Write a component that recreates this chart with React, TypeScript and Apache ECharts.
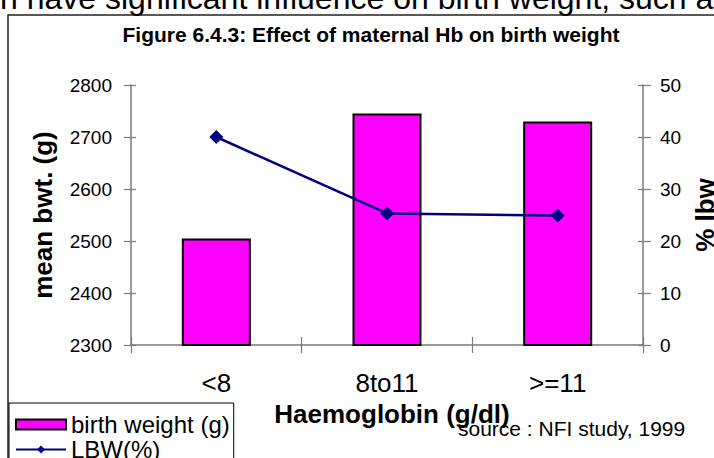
import React, { useEffect, useRef } from "react";
import * as echarts from "echarts";

const categories = ["<8", "8to11", ">=11"];
const birthWeight = [2505, 2745, 2730];
const lbwPercent = [40, 25.3, 24.9];
const leftTicks = { min: 2300, max: 2800, interval: 100 };
const rightTicks = { min: 0, max: 50, interval: 10 };

const FONT = "'Liberation Sans', Arial, Helvetica, sans-serif";
const AXIS_GRAY = "#7a7a7a";

export default function App() {
  const ref = useRef<HTMLDivElement>(null);
  useEffect(() => {
    if (!ref.current) return;
    const chart = echarts.init(ref.current, null, { renderer: "svg" });
    const plain = (v: number) => String(v);
    const option: any = {
      animation: false,
      backgroundColor: "#ffffff",
      textStyle: { fontFamily: FONT },
      grid: {
        left: 131,
        right: 71,
        top: 85,
        bottom: 113,
        containLabel: false,
        outerBoundsMode: "none",
      },
      legend: {
        orient: "vertical",
        left: 9,
        top: 403,
        height: 120,
        padding: [9, 4, 10, 6],
        itemGap: 0,
        itemWidth: 50,
        itemHeight: 10,
        itemTextGap: 12,
        borderColor: "#000",
        borderWidth: 1,
        textStyle: { fontSize: 24, lineHeight: 25, color: "#000", fontFamily: FONT },
        data: [
          { name: "birth weight (g)", icon: "rect" },
          { name: "LBW(%)" },
        ],
      },
      xAxis: [
        {
          type: "category",
          data: categories,
          position: "bottom",
          axisLine: { show: true, lineStyle: { color: AXIS_GRAY, width: 1.5 } },
          axisTick: { show: true, inside: false, length: 8, lineStyle: { color: AXIS_GRAY, width: 1.2 } },
          axisLabel: { fontSize: 26, color: "#000", margin: 25, fontFamily: FONT },
          splitLine: { show: false },
        },
        {
          type: "category",
          data: categories,
          position: "bottom",
          axisLine: { show: false },
          axisTick: { show: true, inside: true, length: 8, lineStyle: { color: AXIS_GRAY, width: 1.2 } },
          axisLabel: { show: false },
          splitLine: { show: false },
        },
      ],
      yAxis: [
        {
          type: "value",
          position: "left",
          min: leftTicks.min,
          max: leftTicks.max,
          interval: leftTicks.interval,
          axisLine: { show: true, lineStyle: { color: AXIS_GRAY, width: 1.5 } },
          axisTick: { show: true, inside: false, length: 7, lineStyle: { color: AXIS_GRAY, width: 1.2 } },
          axisLabel: { fontSize: 19, color: "#000", margin: 19, fontFamily: FONT, formatter: plain },
          splitLine: { show: false },
        },
        {
          type: "value",
          position: "right",
          min: rightTicks.min,
          max: rightTicks.max,
          interval: rightTicks.interval,
          axisLine: { show: true, lineStyle: { color: AXIS_GRAY, width: 1.5 } },
          axisTick: { show: true, inside: false, length: 8, lineStyle: { color: AXIS_GRAY, width: 1.2 } },
          axisLabel: { fontSize: 19, color: "#000", margin: 17, fontFamily: FONT, formatter: plain },
          splitLine: { show: false },
        },
        {
          type: "value",
          position: "left",
          min: leftTicks.min,
          max: leftTicks.max,
          interval: leftTicks.interval,
          axisLine: { show: false },
          axisTick: { show: true, inside: true, length: 5, lineStyle: { color: AXIS_GRAY, width: 1.2 } },
          axisLabel: { show: false },
          splitLine: { show: false },
        },
        {
          type: "value",
          position: "right",
          min: rightTicks.min,
          max: rightTicks.max,
          interval: rightTicks.interval,
          axisLine: { show: false },
          axisTick: { show: true, inside: true, length: 5, lineStyle: { color: AXIS_GRAY, width: 1.2 } },
          axisLabel: { show: false },
          splitLine: { show: false },
        },
      ],
      series: [
        {
          name: "birth weight (g)",
          type: "bar",
          xAxisIndex: 0,
          yAxisIndex: 0,
          data: birthWeight,
          barWidth: 69,
          itemStyle: { color: "#FF00FF", borderColor: "#000", borderWidth: 2 },
          z: 2,
        },
        {
          name: "LBW(%)",
          type: "line",
          xAxisIndex: 0,
          yAxisIndex: 1,
          data: lbwPercent,
          symbol: "diamond",
          symbolSize: 14,
          lineStyle: { color: "#000080", width: 2.5 },
          itemStyle: { color: "#000080" },
          z: 3,
        },
      ],
      graphic: [
        {
          type: "rect",
          z: -10,
          shape: { x: 8, y: 15, width: 800, height: 600 },
          style: { fill: "none", stroke: "#222", lineWidth: 1.5 },
        },
        {
          type: "text",
          x: 0,
          y: -2,
          style: {
            text: "n have significant influence on birth weight, such a",
            fontSize: 32,
            fontFamily: FONT,
            fill: "#000",
            align: "left",
            verticalAlign: "middle",
          },
        },
        {
          type: "text",
          x: 371,
          y: 34,
          style: {
            text: "Figure 6.4.3: Effect of maternal Hb on birth weight",
            fontSize: 21,
            fontWeight: "bold",
            fontFamily: FONT,
            fill: "#000",
            align: "center",
            verticalAlign: "middle",
          },
        },
        {
          type: "text",
          x: 43,
          y: 215,
          rotation: Math.PI / 2,
          style: {
            text: "mean bwt. (g)",
            fontSize: 26,
            fontWeight: "bold",
            fontFamily: FONT,
            fill: "#000",
            align: "center",
            verticalAlign: "middle",
          },
        },
        {
          type: "text",
          x: 705,
          y: 215,
          rotation: Math.PI / 2,
          style: {
            text: "% lbw",
            fontSize: 26,
            fontWeight: "bold",
            fontFamily: FONT,
            fill: "#000",
            align: "center",
            verticalAlign: "middle",
          },
        },
        {
          type: "text",
          x: 392,
          y: 414,
          style: {
            text: "Haemoglobin (g/dl)",
            fontSize: 26,
            fontWeight: "bold",
            fontFamily: FONT,
            fill: "#000",
            align: "center",
            verticalAlign: "middle",
          },
        },
        {
          type: "text",
          x: 458,
          y: 428,
          style: {
            text: "source : NFI study, 1999",
            fontSize: 21,
            fontFamily: FONT,
            fill: "#000",
            align: "left",
            verticalAlign: "middle",
          },
        },
      ],
    };
    chart.setOption(option);
    return () => chart.dispose();
  }, []);
  return (
    <div
      ref={ref}
      style={{ position: "fixed", left: 0, top: 0, width: 714, height: 458 }}
    />
  );
}
